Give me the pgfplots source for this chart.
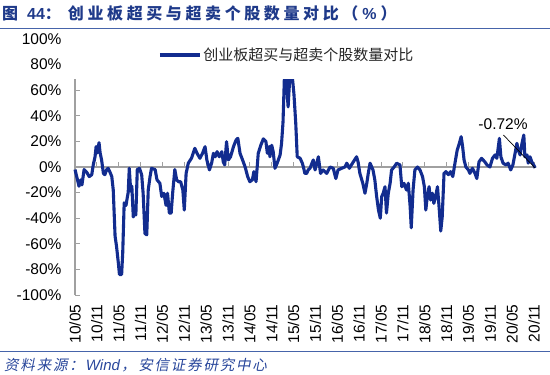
\documentclass[border=0pt]{standalone}
\usepackage{pgfplots}
\pgfplotsset{compat=1.18}
\usepackage{fontspec}
\setmainfont{Liberation Sans}
\newfontfamily\cjk{Noto Sans CJK SC}
\newfontfamily\cjkslant{Noto Sans CJK SC}[FakeSlant=0.2]
\definecolor{lineblue}{RGB}{18,44,143}
\definecolor{titleblue}{RGB}{31,58,138}
\definecolor{footblue}{RGB}{40,70,155}
\definecolor{axgray}{RGB}{160,160,160}
\definecolor{rule}{RGB}{70,100,170}
\newcommand\tsp{\hspace{3.6bp}}
\newcommand\fsp{\hspace{1.8bp}}
\pgfplotsset{longlegend/.style={legend image code/.code={\draw[##1] (0bp,0bp) -- (40bp,0bp);}}}
\begin{document}
\begin{tikzpicture}
\path[use as bounding box] (0,0) rectangle (550bp,-375bp);
% title
\node[anchor=west, inner sep=0pt, text=titleblue] at (2bp,-13bp)
  {\fontsize{16bp}{18bp}\selectfont\bfseries{\cjk 图}\hspace{9bp}44{\cjk ：}\hspace{7bp}{\cjk 创\tsp 业\tsp 板\tsp 超\tsp 买\tsp 与\tsp 超\tsp 卖\tsp 个\tsp 股\tsp 数\tsp 量\tsp 对\tsp 比\tsp （}\hspace{4bp}\%\hspace{4bp}{\cjk ）}};
\draw[rule, line width=0.8bp] (0,-28.5bp) -- (550bp,-28.5bp);
% footer
\draw[rule, line width=1.2bp] (0,-351.5bp) -- (550bp,-351.5bp);
\node[anchor=west, inner sep=0pt, text=footblue] at (4bp,-365bp)
  {\fontsize{14.5bp}{16bp}\selectfont{\cjkslant 资\fsp 料\fsp 来\fsp 源\fsp ：}\hspace{2bp}{\fontsize{15bp}{16bp}\selectfont\textit{Wind}}\hspace{1bp}{\cjkslant ，}\hspace{2.5bp}{\cjkslant 安\fsp 信\fsp 证\fsp 券\fsp 研\fsp 究\fsp 中\fsp 心}};
% axis 1: zero line with upward ticks
\begin{axis}[
  at={(75bp,-295bp)}, anchor=south west,
  width=461.2bp, height=256bp, scale only axis,
  xmin=0, xmax=126.6, ymin=-100, ymax=100,
  axis x line=middle, axis y line=none,
  axis line style={-},
  x axis line style={axgray, line width=1.8bp},
  xtick={6,12,...,126}, xticklabels={},
  ytick=\empty,
  tick align=inside, major tick length=5bp,
  major tick style={axgray, line width=1bp},
]
\addplot[draw=none, forget plot] coordinates {(0,0)};
\end{axis}
% axis 2: data
\begin{axis}[
  at={(75bp,-295bp)}, anchor=south west,
  width=461.2bp, height=256bp, scale only axis,
  xmin=0, xmax=126.6, ymin=-100, ymax=100,
  clip=false,
  axis y line=left, axis x line=bottom,
  axis line style={-},
  x axis line style={draw=none},
  y axis line style={axgray, line width=1.8bp},
  xtick={0,6,...,126},
  xticklabels={10/05,10/11,11/05,11/11,12/05,12/11,13/05,13/11,14/05,14/11,15/05,15/11,16/05,16/11,17/05,17/11,18/05,18/11,19/05,19/11,20/05,20/11},
  major x tick style={draw=none},
  ytick={-100,-80,...,100},
  yticklabel={\pgfmathprintnumber{\tick}\%},
  /pgf/number format/assume math mode=true,
  tick align=inside, major tick length=5bp,
  major y tick style={axgray, line width=1bp},
  yticklabel style={font=\fontsize{15.5bp}{17bp}\selectfont, xshift=-10bp},
  xticklabel style={font=\fontsize{15.5bp}{17bp}\selectfont, rotate=90, anchor=east, xshift=-6bp},
  legend style={at={(0.18,0.9375)}, anchor=west, draw=none, fill=none, inner sep=0pt,
    font=\fontsize{15bp}{17bp}\selectfont\cjk, text=black!85},
  legend cell align=left,
  longlegend,
]
\addplot[lineblue, line width=3.1bp, line join=round]
coordinates {
(0,-2) (0.6,-9) (1.1,-15) (1.6,-10) (1.9,-14) (2.5,-2) (3.2,-4) (3.9,-7.5) (4.6,-6)
(5.0,1.5) (5.5,8) (5.8,16) (6.1,11) (6.6,19) (6.9,11) (7.3,5.5) (7.8,-5) (8.2,-6)
(8.7,-2) (9.1,-1) (9.6,-4) (10.1,-7.5) (10.5,-18) (11.0,-54) (11.4,-62) (11.9,-75)
(12.2,-84) (12.8,-84) (13.1,-67) (13.5,-28) (14.0,-30) (14.4,-23) (14.6,-20) (14.9,-1)
(15.3,-19) (15.6,-15) (16.0,-39) (16.3,-36) (16.7,-37.5) (17.1,-2) (17.7,-1) (18.3,-6)
(18.7,-20.5) (19.2,-52) (19.7,-53) (20.1,-18) (20.6,-7.5) (21.0,-1) (22.0,-2) (22.5,-10)
(23.3,-12.7) (23.8,-23) (24.4,-20.5) (25.0,-30) (25.4,-20.5) (25.9,-36) (26.4,-36)
(26.8,-20.5) (27.4,-2) (27.9,-10) (28.4,-11.5) (29.0,-11.5) (29.6,-18) (30.0,-33.6)
(30.5,-5) (31.1,3) (32.0,7) (32.9,14.6) (33.5,10.7) (34.3,6.8) (35.0,10.7) (35.7,15.9)
(36.2,5.5) (36.9,-2.3) (37.5,3) (38.0,10.7) (38.5,8) (39.0,12) (39.6,8) (40.3,12)
(40.7,4) (41.1,1.6) (41.6,19.8) (42.1,5.5) (42.7,8) (43.5,15.9) (44.2,21) (44.7,22.4)
(45.3,10.7) (46.0,5.5) (46.7,0) (47.4,-7.5) (48.0,-11.5) (48.7,-10) (49.1,-3.6)
(49.7,-11.5) (50.3,10.7) (51.0,17) (51.7,22) (52.4,20) (52.8,10.7) (53.3,16) (53.5,8)
(54.0,17) (54.4,12) (54.9,-1) (55.5,3) (56.3,9.4) (56.7,18.5) (57.1,35) (57.5,72)
(57.9,72) (58.5,47) (59.0,72) (59.6,72) (60.1,57) (60.6,34) (61.0,8)
(61.8,6.8) (62.4,3) (62.7,0) (63.1,-5) (63.6,-5) (64.0,-2.3) (64.5,-1) (65.4,5.5)
(65.9,-2.3) (66.8,8) (67.4,-5) (68.1,-2.3) (69.1,-5) (70.0,0) (70.9,-1) (71.6,-9)
(72.2,-2.3) (73.2,-1) (74.1,0) (74.6,3) (75.3,-1) (76.4,4) (77.3,8) (77.7,4) (78.2,-5)
(79.0,-12.7) (79.6,-20.5) (80.1,-12.7) (80.5,-5) (81.0,3) (81.8,-2.3) (82.3,-10)
(82.8,-23) (83.3,-33.6) (83.8,-40) (84.2,-23) (84.6,-20.5) (85.1,-15.4) (85.5,-36)
(86.0,-20.5) (86.5,-12.7) (86.9,-2.3) (87.6,0) (88.3,3) (89.2,1.6) (89.7,-15.4)
(90.3,-12.7) (91.0,-18) (91.5,-12.7) (92.0,-31) (92.3,-47.5) (92.8,-18) (93.3,-2.3)
(94.0,0) (94.7,-2.3) (95.4,-7.5) (95.9,-15.4) (96.3,-33.6) (96.7,-23) (97.2,-15.4)
(97.6,-25.8) (98.1,-20.5) (98.5,-28.4) (99.0,-23) (99.5,-15.4) (100.0,-33.6)
(100.4,-50) (100.8,-39) (101.3,-5) (101.8,-3.6) (102.5,-6) (103.1,-3.6) (103.7,-7.5)
(104.3,3) (104.9,13) (105.5,18.5) (106.0,23.7) (106.4,16) (106.8,5.5) (107.3,0)
(108.0,-2.3) (108.4,-5) (109.1,-1) (109.8,-5) (110.3,-9) (110.9,4) (111.6,6.8)
(112.5,4) (113.1,1.6) (113.9,0) (114.6,6.8) (115.3,9.4) (115.8,6.8) (116.5,22.4)
(116.9,8) (117.5,3) (118.3,1.6) (118.9,3) (119.6,-2.3) (120.2,1.6) (120.8,10.7)
(121.3,18.5) (121.7,13) (122.2,9.4) (122.7,18.5) (123.2,25) (123.5,8) (124.1,9.4)
(124.4,3) (124.9,8) (125.4,4) (125.9,1.6) (126.3,-0.72)
};
\addlegendentry{创业板超买与超卖个股数量对比}
\fill[white] (rel axis cs:-0.025,0.8425) rectangle (rel axis cs:1.02,1.02);
\draw[black, line width=0.7bp] (axis cs:117.6,25) -- (axis cs:126.3,-0.72);
\node[font=\fontsize{15.5bp}{17bp}\selectfont, inner sep=0pt] at (axis cs:117.5,33.6) {-0.72\%};
\end{axis}
\end{tikzpicture}
\end{document}
